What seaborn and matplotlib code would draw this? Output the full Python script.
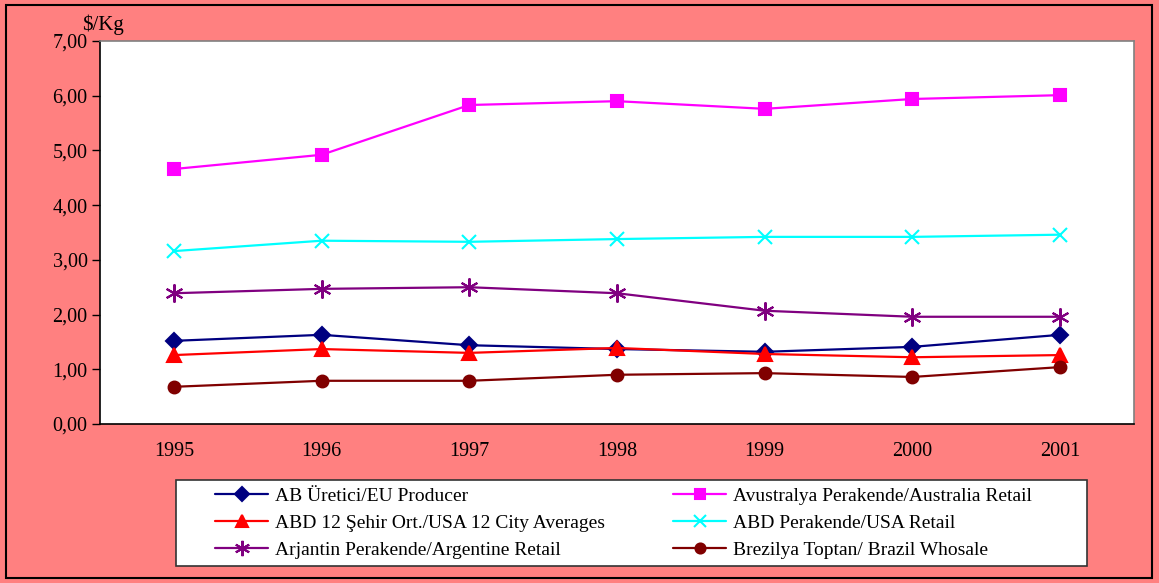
import pandas as pd
import matplotlib.pyplot as plt
import seaborn as sns
from matplotlib.patches import Rectangle
from matplotlib.ticker import FuncFormatter

years = ['1995', '1996', '1997', '1998', '1999', '2000', '2001']

eu_producer = [1.52, 1.63, 1.44, 1.37, 1.32, 1.41, 1.63]
australia_retail = [4.66, 4.92, 5.83, 5.90, 5.76, 5.94, 6.01]
usa_city_avg = [1.26, 1.37, 1.30, 1.39, 1.28, 1.22, 1.26]
usa_retail = [3.16, 3.35, 3.33, 3.38, 3.42, 3.42, 3.46]
argentine_retail = [2.39, 2.47, 2.50, 2.39, 2.07, 1.96, 1.96]
brazil_wholesale = [0.68, 0.79, 0.79, 0.90, 0.93, 0.86, 1.04]

series_names = [
    'AB Üretici/EU Producer',
    'Avustralya Perakende/Australia Retail',
    'ABD 12 Şehir Ort./USA 12 City Averages',
    'ABD Perakende/USA Retail',
    'Arjantin Perakende/Argentine Retail',
    'Brezilya Toptan/ Brazil Whosale',
]
series_values = [eu_producer, australia_retail, usa_city_avg,
                 usa_retail, argentine_retail, brazil_wholesale]

colors = ['#000080', '#FF00FF', '#FF0000', '#00FFFF', '#800080', '#800000']
markers = ['D', 's', '^', 'x', (6, 2, 0), 'o']
msizes = [8, 9, 9.5, 10, 13, 8.5]

rows = []
for name, vals in zip(series_names, series_values):
    for i, v in enumerate(vals):
        rows.append({'pos': i, 'Year': years[i], 'Series': name, 'Value': v})
df = pd.DataFrame(rows)

sns.set_style('white')
plt.rcParams['font.family'] = ['Liberation Serif', 'DejaVu Serif']
plt.rcParams['text.color'] = 'black'
plt.rcParams['xtick.color'] = 'black'
plt.rcParams['ytick.color'] = 'black'

fig = plt.figure(figsize=(11.59, 5.83), dpi=100, facecolor='#FF8080')
# outer chart border
fig.patches.append(Rectangle((0.005, 0.008), 0.989, 0.984, transform=fig.transFigure,
                             fill=False, edgecolor='black', linewidth=1.5))
ax = fig.add_axes([0.0863, 0.2727, 0.8921, 0.657])

for name, c, m, ms in zip(series_names, colors, markers, msizes):
    sub = df[df['Series'] == name]
    sns.lineplot(data=sub, x='pos', y='Value', ax=ax, color=c, marker=m,
                 markersize=ms, markeredgecolor=c, markeredgewidth=1.5,
                 linewidth=1.6, label=name)

ax.set_xlim(-0.5, 6.5)
ax.set_ylim(0, 7)
ax.set_yticks([0, 1, 2, 3, 4, 5, 6, 7])
ax.yaxis.set_major_formatter(FuncFormatter(lambda v, p: f'{v:.2f}'.replace('.', ',')))
ax.set_xticks(range(len(years)))
ax.set_xticklabels(years)
ax.set_xticks([i - 0.5 for i in range(len(years) + 1)], minor=True)
ax.tick_params(axis='x', which='major', length=0, pad=13, labelsize=14.5)
ax.tick_params(axis='x', which='minor', length=6, width=1, direction='out', color='black')
ax.tick_params(axis='y', length=6, width=1, direction='out', color='black',
               labelsize=14.5, left=True, pad=3)
ax.set_xlabel('')
ax.set_ylabel('')
ax.set_facecolor('white')
for s in ['left', 'bottom']:
    ax.spines[s].set_color('black')
    ax.spines[s].set_linewidth(1.2)
for s in ['top', 'right']:
    ax.spines[s].set_color('#808080')
    ax.spines[s].set_linewidth(1.2)

fig.text(0.0708, 0.957, '$/Kg', fontsize=15, ha='left', va='center')

# legend box drawn separately, legend itself frameless
fig.patches.append(Rectangle((176 / 1159, 1 - 566 / 583), 911 / 1159, 86 / 583,
                             transform=fig.transFigure, facecolor='white',
                             edgecolor='#333333', linewidth=1.2, zorder=1))

handles, labels = ax.get_legend_handles_labels()
ax.get_legend().remove()
# order so that rows read left-to-right like the original
order = [0, 2, 4, 1, 3, 5]
leg = fig.legend([handles[i] for i in order], [labels[i] for i in order], ncol=2,
                 loc='upper left', bbox_to_anchor=(215 / 1159, 1 - 487 / 583),
                 bbox_transform=fig.transFigure, frameon=False, fontsize=14,
                 handlelength=2.73, handletextpad=0.36, columnspacing=3.5,
                 labelspacing=0.5, borderpad=0, borderaxespad=0, markerscale=0.85)

fig.savefig('out.png', dpi=100, facecolor=fig.get_facecolor())
